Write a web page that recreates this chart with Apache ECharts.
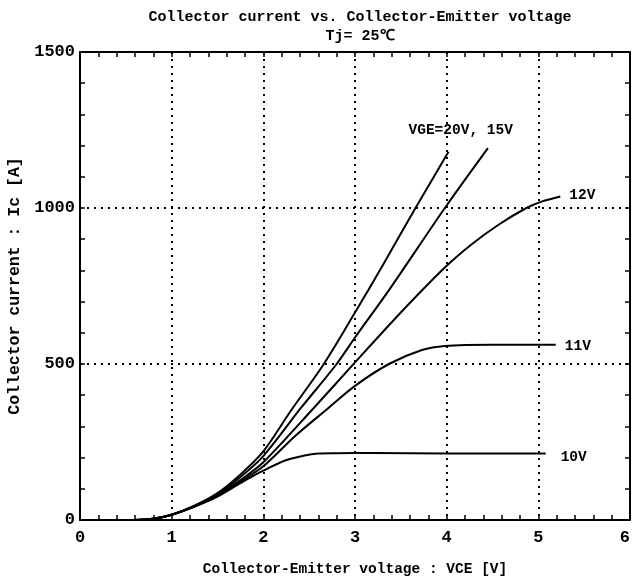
<!DOCTYPE html>
<html>
<head>
<meta charset="utf-8">
<script src="https://cdn.jsdelivr.net/npm/echarts@6/dist/echarts.min.js"></script>
<style>html,body{margin:0;padding:0;background:#fff}#c{width:632px;height:587px}</style>
</head>
<body>
<div id="c"></div>
<script>
// Tick values
var xTicks = [0, 1, 2, 3, 4, 5, 6];
var yTicks = [0, 500, 1000, 1500];

// Curves (VCE [V], Ic [A])
var vge20V = [0.6,0.8,1.0,1.25,1.5,1.75,2.0,2.3,2.66,3.0,3.3,3.66,4.02];
var vge20I = [0,4,17,46,86,146,220,350,500,665,815,1000,1180];

var vge15V = [0.6,0.8,1.0,1.25,1.5,1.75,2.0,2.41,2.8,3.0,3.39,3.98,4.45];
var vge15I = [0,4,17,45,84,138,205,359,500,585,745,1000,1192];

var vge12V = [0.6,0.8,1.0,1.25,1.5,1.75,2.0,2.55,3.0,3.5,3.98,4.27,4.57,4.87,5.05,5.24];
var vge12I = [0,4,17,44,81,128,185,359,505,665,809,883,947,1000,1022,1037];

var vge11V = [0.6,0.8,1.0,1.25,1.5,1.75,2.0,2.35,2.71,3.0,3.37,3.73,3.98,4.5,5.19];
var vge11I = [0,4,17,43,78,123,172,270,359,430,500,545,558,562,562];

var vge10V = [0.6,0.8,1.0,1.25,1.5,1.75,1.88,2.0,2.23,2.45,2.6,2.8,3.2,4.0,5.08];
var vge10I = [0,4,17,43,75,118,140,158,190,207,213,214,215,213,213];

var curveNames = ['VGE=20V, 15V', '15V', '12V', '11V', '10V'];

function pts(v, i) { return v.map(function (x, k) { return [x, i[k]]; }); }

var FONT = 'Liberation Mono';
var black = '#000';

function lineSeries(name, data, label) {
  var s = {
    type: 'line', name: name, data: data, showSymbol: false, smooth: 0.3,
    lineStyle: { color: black, width: 2 }, silent: true, z: 5
  };
  if (label) s.endLabel = label;
  return s;
}

var tickLbl = { color: black, fontFamily: FONT, fontSize: 17, fontWeight: 'bold' };
var curveLbl = { fontFamily: FONT, fontWeight: 'bold', fontSize: 14.5, color: black };

var chart = echarts.init(document.getElementById('c'));
chart.setOption({
  backgroundColor: '#fff',
  animation: false,
  title: {
    text: 'Collector current vs. Collector-Emitter voltage\nTj= 25\u2103',
    left: 355, top: 3, textAlign: 'center',
    textStyle: { fontFamily: FONT, fontWeight: 'bold', fontSize: 15, lineHeight: 19, color: black }
  },
  grid: { left: 80, right: 2, top: 52, bottom: 67, containLabel: false, outerBoundsMode: 'none' },
  xAxis: [{
    type: 'value', min: 0, max: 6, interval: 1,
    name: 'Collector-Emitter voltage : VCE [V]', nameLocation: 'middle', nameGap: 42,
    nameTextStyle: { fontFamily: FONT, fontWeight: 'bold', fontSize: 14.5, color: black },
    axisLine: { show: true, onZero: false, lineStyle: { color: black, width: 2 } },
    axisTick: { show: true, inside: true, length: 5, lineStyle: { color: black, width: 1.5 } },
    minorTick: { show: true, splitNumber: 5, length: 5, lineStyle: { color: black, width: 1.5 } },
    axisLabel: Object.assign({ margin: 9, alignMaxLabel: 'right', formatter: function (v) { return xTicks.indexOf(v) >= 0 ? String(v) : ''; } }, tickLbl),
    splitLine: { show: true, lineStyle: { color: black, width: 2, type: [2, 5] } }
  }, {
    type: 'value', min: 0, max: 6, interval: 1, position: 'top',
    axisLine: { show: true, onZero: false, lineStyle: { color: black, width: 2 } },
    axisTick: { show: true, inside: true, length: 5, lineStyle: { color: black, width: 1.5 } },
    minorTick: { show: true, splitNumber: 5, length: 5, lineStyle: { color: black, width: 1.5 } },
    axisLabel: { show: false }, splitLine: { show: false }
  }],
  yAxis: [{
    type: 'value', min: 0, max: 1500, interval: 500,
    name: 'Collector current : Ic [A]', nameLocation: 'middle', nameGap: 54, nameRotate: 90,
    nameTextStyle: { fontFamily: FONT, fontWeight: 'bold', fontSize: 16.5, color: black },
    axisLine: { show: true, onZero: false, lineStyle: { color: black, width: 2 } },
    axisTick: { show: true, inside: true, length: 5, lineStyle: { color: black, width: 1.5 } },
    minorTick: { show: true, splitNumber: 5, length: 5, lineStyle: { color: black, width: 1.5 } },
    axisLabel: Object.assign({ margin: 5, formatter: function (v) { return yTicks.indexOf(v) >= 0 ? String(v) : ''; } }, tickLbl),
    splitLine: { show: true, lineStyle: { color: black, width: 2, type: [2, 5] } }
  }, {
    type: 'value', min: 0, max: 1500, interval: 500, position: 'right',
    axisLine: { show: true, onZero: false, lineStyle: { color: black, width: 2 } },
    axisTick: { show: true, inside: true, length: 5, lineStyle: { color: black, width: 1.5 } },
    minorTick: { show: true, splitNumber: 5, length: 5, lineStyle: { color: black, width: 1.5 } },
    axisLabel: { show: false }, splitLine: { show: false }
  }],
  series: [
    lineSeries(curveNames[0], pts(vge20V, vge20I), Object.assign({
      show: true, formatter: curveNames[0], distance: 5, offset: [-45, -21]
    }, curveLbl)),
    lineSeries(curveNames[1], pts(vge15V, vge15I)),
    lineSeries(curveNames[2], pts(vge12V, vge12I), Object.assign({
      show: true, formatter: curveNames[2], distance: 9, offset: [0, -1]
    }, curveLbl)),
    lineSeries(curveNames[3], pts(vge11V, vge11I), Object.assign({
      show: true, formatter: curveNames[3], distance: 9, offset: [0, 2]
    }, curveLbl)),
    lineSeries(curveNames[4], pts(vge10V, vge10I), Object.assign({
      show: true, formatter: curveNames[4], distance: 15, offset: [0, 4]
    }, curveLbl))
  ]
});
</script>
</body>
</html>
